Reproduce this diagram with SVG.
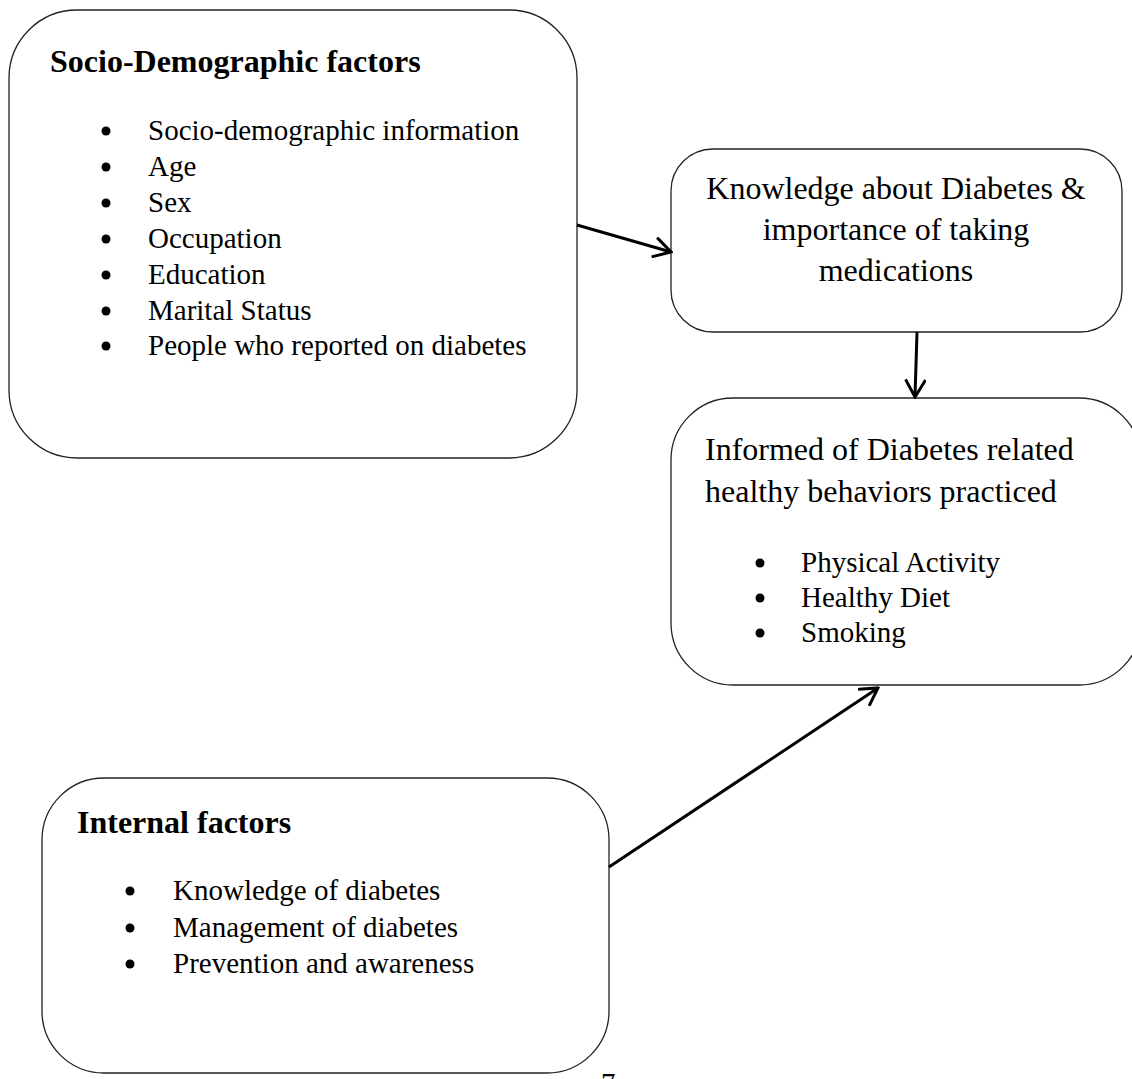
<svg xmlns="http://www.w3.org/2000/svg" width="1132" height="1079" viewBox="0 0 1132 1079">
<defs>
<marker id="arr" viewBox="0 0 22 22" refX="20" refY="11" markerWidth="22" markerHeight="22" markerUnits="userSpaceOnUse" orient="auto">
<path d="M2.7,1 L20,11 L2.7,21" fill="none" stroke="#000" stroke-width="3"/>
</marker>
<style>
.box{fill:#fff;stroke:#222;stroke-width:1.3}
.t{font-family:"Liberation Serif","Times New Roman",serif;fill:#000}
.it{font-size:29px}
.h{font-size:32px;font-weight:bold}
.k{font-size:32px}
.b{fill:#000}
.c{stroke:#000;stroke-width:3;fill:none}
</style>
</defs>
<rect width="1132" height="1079" fill="#fff"/>
<g id="socio">
<rect class="box" x="9" y="10" width="568" height="448" rx="68"/>
<text class="t h" x="50" y="72">Socio-Demographic factors</text>
<g class="b">
<circle cx="106" cy="131" r="4.5"/><circle cx="106" cy="167" r="4.5"/><circle cx="106" cy="203" r="4.5"/>
<circle cx="106" cy="239" r="4.5"/><circle cx="106" cy="275" r="4.5"/><circle cx="106" cy="311" r="4.5"/>
<circle cx="106" cy="346" r="4.5"/>
</g>
<g class="t it">
<text x="148" y="140">Socio-demographic information</text>
<text x="148" y="176">Age</text>
<text x="148" y="212">Sex</text>
<text x="148" y="248">Occupation</text>
<text x="148" y="284">Education</text>
<text x="148" y="320">Marital Status</text>
<text x="148" y="355">People who reported on diabetes</text>
</g>
</g>
<g id="knowledge">
<rect class="box" x="671" y="149" width="451" height="183" rx="42"/>
<g class="t k" text-anchor="middle">
<text x="896" y="199">Knowledge about Diabetes &amp;</text>
<text x="896" y="240">importance of taking</text>
<text x="896" y="281">medications</text>
</g>
</g>
<g id="informed">
<rect class="box" x="671" y="398" width="470" height="287" rx="62"/>
<g class="t k">
<text x="705" y="460">Informed of Diabetes related</text>
<text x="705" y="502">healthy behaviors practiced</text>
</g>
<g class="b">
<circle cx="760" cy="563" r="4.5"/><circle cx="760" cy="598" r="4.5"/><circle cx="760" cy="633" r="4.5"/>
</g>
<g class="t it">
<text x="801" y="572">Physical Activity</text>
<text x="801" y="607">Healthy Diet</text>
<text x="801" y="642">Smoking</text>
</g>
</g>
<g id="internal">
<rect class="box" x="42" y="778" width="567" height="295" rx="62"/>
<text class="t h" x="77" y="833">Internal factors</text>
<g class="b">
<circle cx="130" cy="891" r="4.5"/><circle cx="130" cy="928" r="4.5"/><circle cx="130" cy="964" r="4.5"/>
</g>
<g class="t it">
<text x="173" y="900">Knowledge of diabetes</text>
<text x="173" y="937">Management of diabetes</text>
<text x="173" y="973">Prevention and awareness</text>
</g>
</g>
<g id="connectors">
<line class="c" x1="577" y1="225" x2="671" y2="252" marker-end="url(#arr)"/>
<line class="c" x1="917" y1="332" x2="915" y2="397" marker-end="url(#arr)"/>
<line class="c" x1="609" y1="867" x2="878" y2="688" marker-end="url(#arr)"/>
</g>
<text class="t it" x="601" y="1093">7</text>
</svg>
